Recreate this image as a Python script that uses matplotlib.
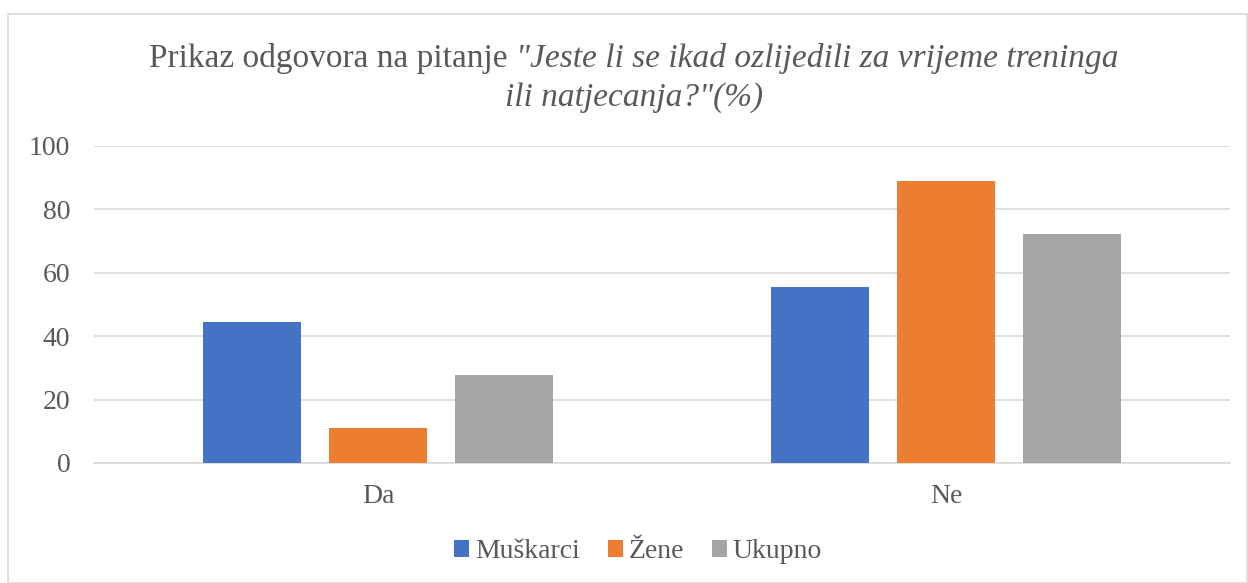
import matplotlib
matplotlib.use("Agg")
import matplotlib.pyplot as plt
from matplotlib.patches import Rectangle
import numpy as np

categories = ["Da", "Ne"]
series_names = ["Muškarci", "Žene", "Ukupno"]
muskarci = [44.4, 55.6]
zene = [11.1, 88.9]
ukupno = [27.8, 72.2]
yticks = [0, 20, 40, 60, 80, 100]

colors = ["#4472C4", "#ED7D31", "#A5A5A5"]
text_color = "#595959"

plt.rcParams['font.family'] = ['Liberation Serif', 'DejaVu Serif']

fig = plt.figure(figsize=(12.48, 5.83), dpi=100)
ax = fig.add_axes([94/1248, 1 - 463/583, (1230-94)/1248, (463-146)/583])

x = np.arange(len(categories))
width = 0.173
offset = 0.222
for i, (vals, name) in enumerate(zip([muskarci, zene, ukupno], series_names)):
    ax.bar(x + (i - 1) * offset, vals, width, color=colors[i], label=name, zorder=3)

ax.set_xlim(-0.5, 1.5)
ax.set_ylim(0, 100)
ax.set_yticks(yticks)
ax.set_yticklabels([str(t) for t in yticks], fontsize=20, color=text_color)
ax.set_xticks(x)
ax.set_xticklabels(categories, fontsize=20, color=text_color)
ax.tick_params(axis='both', length=0)
ax.tick_params(axis='y', pad=17)
ax.tick_params(axis='x', pad=15)
ax.yaxis.grid(True, color="#d9d9d9", linewidth=1.2, zorder=0)
for s in ["top", "right", "left"]:
    ax.spines[s].set_visible(False)
ax.spines["bottom"].set_color("#d9d9d9")
ax.spines["bottom"].set_linewidth(1.2)

# Title with mixed styles (line 1: regular + italic, line 2: italic)
title_fs = 24
cx = 634
y1 = 1 - 59/583
t1 = fig.text(0, y1, "Prikaz odgovora na pitanje ", fontsize=title_fs,
              color=text_color, ha='left', va='center')
t2 = fig.text(0, y1, "\"Jeste li se ikad ozlijedili za vrijeme treninga",
              fontsize=title_fs, style='italic', color=text_color, ha='left', va='center')
fig.canvas.draw()
r = fig.canvas.get_renderer()
w1 = t1.get_window_extent(r).width
w2 = t2.get_window_extent(r).width
start = cx - (w1 + w2) / 2
t1.set_x(start / 1248)
t2.set_x((start + w1) / 1248)
fig.text(cx / 1248, 1 - 98/583, "ili natjecanja?\"(%)", fontsize=title_fs, style='italic',
         color=text_color, ha='center', va='center')

ax.legend(loc='center', bbox_to_anchor=(638/1248, (583-552)/583), bbox_transform=fig.transFigure,
          ncol=3, frameon=False, fontsize=20, labelcolor=text_color,
          handlelength=0.55, handleheight=0.55, handletextpad=0.2, columnspacing=1.0)

fig.patches.append(Rectangle((8/1248, 0), 1 - 9/1248, 1 - 14/583, transform=fig.transFigure,
                             fill=False, edgecolor="#d9d9d9", linewidth=1.2))

fig.savefig("out.png", dpi=100)
